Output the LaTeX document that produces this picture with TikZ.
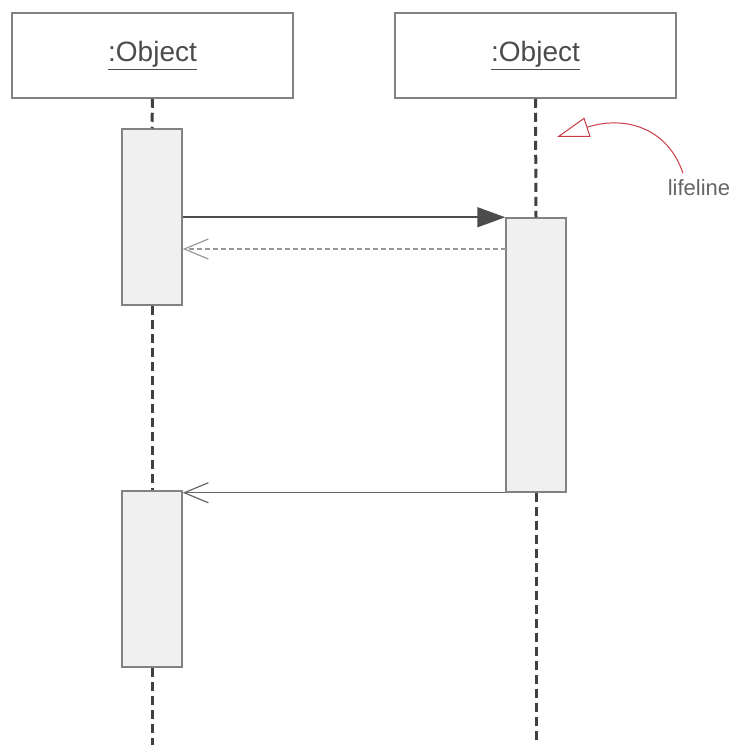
\documentclass[tikz,border=0pt]{standalone}
\usepackage{fontspec}
\setmainfont{Liberation Sans}
\usetikzlibrary{arrows.meta}
\definecolor{edge}{RGB}{130,130,130}
\definecolor{actfill}{RGB}{240,240,240}
\definecolor{note}{RGB}{200,60,70}
\begin{document}
\begin{tikzpicture}[x=1pt,y=-1pt,
  obj/.style={draw=edge,line width=1.5pt,fill=white,minimum width=281pt,minimum height=85pt,
    text=black!70,font=\fontsize{28}{32}\selectfont},
  act/.style={draw=edge,line width=1.5pt,fill=actfill,minimum width=60pt},
  life/.style={black!75,line width=3pt,dash pattern=on 9pt off 5pt},
  call/.style={black!70,line width=1.6pt,-{Triangle[length=28pt,width=20pt]}},
  back/.style={black!60,line width=1.3pt,-{Straight Barb[length=24pt,width=20pt,line width=1.2pt]}}]
\useasboundingbox (0,0) rectangle (731,745);
% objects
\node[obj] (objA) at (152.5,55.5) {\underline{:Object}};
\node[obj] (objB) at (535.5,55.5) {\underline{:Object}};
\coordinate (endA) at (152,745);
\coordinate (endB) at (536,745);
% activations
\node[act,minimum height=176pt] (actA) at (152,217) {};
\node[act,minimum height=274pt] (actB) at (536,355) {};
\node[act,minimum height=176pt] (actC) at (152,579) {};
% lifelines
\draw[life] (objA.south) -- (actA.north);
\draw[life] (actA.south) -- (actC.north);
\draw[life] (actC.south) -- (endA);
\draw[life] (objB.south) -- (actB.north);
\draw[life] (actB.south) -- (endB);
% messages
\draw[call] (actA.east |- actB.north west) -- (actB.north west);
\coordinate (ret) at (506,249);
\draw[back,dash pattern=on 5pt off 3pt,black!40] (ret) -- (ret -| actA.east);
\draw[back] (actB.south west) -- (actB.south west -| actC.east);
% note
\node[text=black!60,font=\fontsize{22}{26}\selectfont] (lbl) at (699,188) {lifeline};
\draw[note,line width=1pt,-{Triangle[open,length=32pt,width=20pt,fill=white]}]
  ([xshift=-16pt,yshift=3pt]lbl.north) .. controls (668,128) and (625,115) .. (557,137);
\end{tikzpicture}
\end{document}
